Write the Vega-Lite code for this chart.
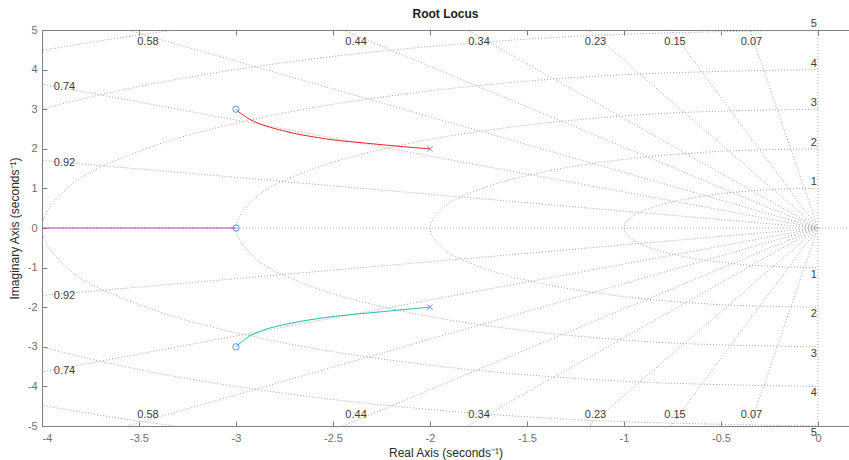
{
  "$schema": "https://vega.github.io/schema/vega-lite/v6.json",
  "width": 807,
  "height": 396,
  "autosize": "none",
  "padding": {"left": 42, "top": 30, "right": 0, "bottom": 34},
  "background": "white",
  "title": {"text": "Root Locus", "font": "Liberation Sans", "fontSize": 12, "fontWeight": "bold", "color": "#1a1a1a", "offset": -3},
  "config": {
    "view": {"stroke": null},
    "axis": {
      "domainColor": "#808080", "tickColor": "#808080", "labelColor": "#6e6e6e",
      "labelFont": "Liberation Sans", "labelFontSize": 11,
      "titleFont": "Liberation Sans", "titleFontSize": 12, "titleFontWeight": "normal", "titleColor": "#2a2a2a",
      "grid": false, "tickSize": -5, "domainWidth": 1, "tickWidth": 1
    }
  },
  "datasets": {
    "zeta": [
      {"x": 0, "y": 0, "x2": -0.7, "y2": 9.976}, {"x": 0, "y": 0, "x2": -0.7, "y2": -9.976},
      {"x": 0, "y": 0, "x2": -1.5, "y2": 9.887}, {"x": 0, "y": 0, "x2": -1.5, "y2": -9.887},
      {"x": 0, "y": 0, "x2": -2.3, "y2": 9.732}, {"x": 0, "y": 0, "x2": -2.3, "y2": -9.732},
      {"x": 0, "y": 0, "x2": -3.4, "y2": 9.404}, {"x": 0, "y": 0, "x2": -3.4, "y2": -9.404},
      {"x": 0, "y": 0, "x2": -4.4, "y2": 8.98}, {"x": 0, "y": 0, "x2": -4.4, "y2": -8.98},
      {"x": 0, "y": 0, "x2": -5.8, "y2": 8.146}, {"x": 0, "y": 0, "x2": -5.8, "y2": -8.146},
      {"x": 0, "y": 0, "x2": -7.4, "y2": 6.726}, {"x": 0, "y": 0, "x2": -7.4, "y2": -6.726},
      {"x": 0, "y": 0, "x2": -9.2, "y2": 3.919}, {"x": 0, "y": 0, "x2": -9.2, "y2": -3.919},
      {"x": 1, "y": 0, "x2": -10, "y2": 0},
      {"x": 0, "y": -10, "x2": 0, "y2": 10}
    ],
    "circles": [
      {"r": 1, "i": 0, "x": 0, "y": 1}, {"r": 1, "i": 1, "x": -0.259, "y": 0.966}, {"r": 1, "i": 2, "x": -0.5, "y": 0.866}, {"r": 1, "i": 3, "x": -0.707, "y": 0.707}, {"r": 1, "i": 4, "x": -0.866, "y": 0.5}, {"r": 1, "i": 5, "x": -0.966, "y": 0.259}, {"r": 1, "i": 6, "x": -1, "y": 0}, {"r": 1, "i": 7, "x": -0.966, "y": -0.259}, {"r": 1, "i": 8, "x": -0.866, "y": -0.5}, {"r": 1, "i": 9, "x": -0.707, "y": -0.707}, {"r": 1, "i": 10, "x": -0.5, "y": -0.866}, {"r": 1, "i": 11, "x": -0.259, "y": -0.966}, {"r": 1, "i": 12, "x": 0, "y": -1},
      {"r": 2, "i": 0, "x": 0, "y": 2}, {"r": 2, "i": 1, "x": -0.518, "y": 1.932}, {"r": 2, "i": 2, "x": -1, "y": 1.732}, {"r": 2, "i": 3, "x": -1.414, "y": 1.414}, {"r": 2, "i": 4, "x": -1.732, "y": 1}, {"r": 2, "i": 5, "x": -1.932, "y": 0.518}, {"r": 2, "i": 6, "x": -2, "y": 0}, {"r": 2, "i": 7, "x": -1.932, "y": -0.518}, {"r": 2, "i": 8, "x": -1.732, "y": -1}, {"r": 2, "i": 9, "x": -1.414, "y": -1.414}, {"r": 2, "i": 10, "x": -1, "y": -1.732}, {"r": 2, "i": 11, "x": -0.518, "y": -1.932}, {"r": 2, "i": 12, "x": 0, "y": -2},
      {"r": 3, "i": 0, "x": 0, "y": 3}, {"r": 3, "i": 1, "x": -0.776, "y": 2.898}, {"r": 3, "i": 2, "x": -1.5, "y": 2.598}, {"r": 3, "i": 3, "x": -2.121, "y": 2.121}, {"r": 3, "i": 4, "x": -2.598, "y": 1.5}, {"r": 3, "i": 5, "x": -2.898, "y": 0.776}, {"r": 3, "i": 6, "x": -3, "y": 0}, {"r": 3, "i": 7, "x": -2.898, "y": -0.776}, {"r": 3, "i": 8, "x": -2.598, "y": -1.5}, {"r": 3, "i": 9, "x": -2.121, "y": -2.121}, {"r": 3, "i": 10, "x": -1.5, "y": -2.598}, {"r": 3, "i": 11, "x": -0.776, "y": -2.898}, {"r": 3, "i": 12, "x": 0, "y": -3},
      {"r": 4, "i": 0, "x": 0, "y": 4}, {"r": 4, "i": 1, "x": -1.035, "y": 3.864}, {"r": 4, "i": 2, "x": -2, "y": 3.464}, {"r": 4, "i": 3, "x": -2.828, "y": 2.828}, {"r": 4, "i": 4, "x": -3.464, "y": 2}, {"r": 4, "i": 5, "x": -3.864, "y": 1.035}, {"r": 4, "i": 6, "x": -4, "y": 0}, {"r": 4, "i": 7, "x": -3.864, "y": -1.035}, {"r": 4, "i": 8, "x": -3.464, "y": -2}, {"r": 4, "i": 9, "x": -2.828, "y": -2.828}, {"r": 4, "i": 10, "x": -2, "y": -3.464}, {"r": 4, "i": 11, "x": -1.035, "y": -3.864}, {"r": 4, "i": 12, "x": 0, "y": -4},
      {"r": 5, "i": 0, "x": 0, "y": 5}, {"r": 5, "i": 1, "x": -1.294, "y": 4.83}, {"r": 5, "i": 2, "x": -2.5, "y": 4.33}, {"r": 5, "i": 3, "x": -3.536, "y": 3.536}, {"r": 5, "i": 4, "x": -4.33, "y": 2.5}, {"r": 5, "i": 5, "x": -4.83, "y": 1.294}, {"r": 5, "i": 6, "x": -5, "y": 0}, {"r": 5, "i": 7, "x": -4.83, "y": -1.294}, {"r": 5, "i": 8, "x": -4.33, "y": -2.5}, {"r": 5, "i": 9, "x": -3.536, "y": -3.536}, {"r": 5, "i": 10, "x": -2.5, "y": -4.33}, {"r": 5, "i": 11, "x": -1.294, "y": -4.83}, {"r": 5, "i": 12, "x": 0, "y": -5},
      {"r": 6, "i": 0, "x": 0, "y": 6}, {"r": 6, "i": 1, "x": -1.553, "y": 5.796}, {"r": 6, "i": 2, "x": -3, "y": 5.196}, {"r": 6, "i": 3, "x": -4.243, "y": 4.243}, {"r": 6, "i": 4, "x": -5.196, "y": 3}, {"r": 6, "i": 5, "x": -5.796, "y": 1.553}, {"r": 6, "i": 6, "x": -6, "y": 0}, {"r": 6, "i": 7, "x": -5.796, "y": -1.553}, {"r": 6, "i": 8, "x": -5.196, "y": -3}, {"r": 6, "i": 9, "x": -4.243, "y": -4.243}, {"r": 6, "i": 10, "x": -3, "y": -5.196}, {"r": 6, "i": 11, "x": -1.553, "y": -5.796}, {"r": 6, "i": 12, "x": 0, "y": -6}
    ],
    "zlabels": [
      {"t": "0.58", "x": -3.454, "y": 4.7}, {"t": "0.44", "x": -2.381, "y": 4.7}, {"t": "0.34", "x": -1.747, "y": 4.7},
      {"t": "0.23", "x": -1.147, "y": 4.7}, {"t": "0.15", "x": -0.737, "y": 4.7}, {"t": "0.07", "x": -0.343, "y": 4.7},
      {"t": "0.58", "x": -3.454, "y": -4.72}, {"t": "0.44", "x": -2.381, "y": -4.72}, {"t": "0.34", "x": -1.747, "y": -4.72},
      {"t": "0.23", "x": -1.147, "y": -4.72}, {"t": "0.15", "x": -0.737, "y": -4.72}, {"t": "0.07", "x": -0.343, "y": -4.72},
      {"t": "0.74", "x": -3.884, "y": 3.55}, {"t": "0.92", "x": -3.884, "y": 1.65},
      {"t": "0.92", "x": -3.884, "y": -1.71}, {"t": "0.74", "x": -3.884, "y": -3.62}
    ],
    "wtop": [
      {"t": "1", "x": 0, "y": 1}, {"t": "2", "x": 0, "y": 2}, {"t": "3", "x": 0, "y": 3}, {"t": "4", "x": 0, "y": 4}, {"t": "5", "x": 0, "y": 5}
    ],
    "wbot": [
      {"t": "1", "x": 0, "y": -1}, {"t": "2", "x": 0, "y": -2}, {"t": "3", "x": 0, "y": -3}, {"t": "4", "x": 0, "y": -4}, {"t": "5", "x": 0, "y": -5}
    ],
    "branches": [
      {"b": "m", "i": 0, "x": -4, "y": 0}, {"b": "m", "i": 1, "x": -3, "y": 0},
      {"b": "r", "i": 0, "x": -3.0, "y": 3.0}, {"b": "r", "i": 1, "x": -2.985, "y": 2.93}, {"b": "r", "i": 2, "x": -2.96, "y": 2.84}, {"b": "r", "i": 3, "x": -2.928, "y": 2.74}, {"b": "r", "i": 4, "x": -2.885, "y": 2.645}, {"b": "r", "i": 5, "x": -2.842, "y": 2.57}, {"b": "r", "i": 6, "x": -2.76, "y": 2.46}, {"b": "r", "i": 7, "x": -2.67, "y": 2.36}, {"b": "r", "i": 8, "x": -2.58, "y": 2.285}, {"b": "r", "i": 9, "x": -2.5, "y": 2.225}, {"b": "r", "i": 10, "x": -2.41, "y": 2.18}, {"b": "r", "i": 11, "x": -2.326, "y": 2.14}, {"b": "r", "i": 12, "x": -2.24, "y": 2.1}, {"b": "r", "i": 13, "x": -2.155, "y": 2.06}, {"b": "r", "i": 14, "x": -2.08, "y": 2.03}, {"b": "r", "i": 15, "x": -2.0, "y": 2.0},
      {"b": "c", "i": 0, "x": -3.0, "y": -3.0}, {"b": "c", "i": 1, "x": -2.985, "y": -2.93}, {"b": "c", "i": 2, "x": -2.96, "y": -2.84}, {"b": "c", "i": 3, "x": -2.928, "y": -2.72}, {"b": "c", "i": 4, "x": -2.885, "y": -2.63}, {"b": "c", "i": 5, "x": -2.842, "y": -2.55}, {"b": "c", "i": 6, "x": -2.76, "y": -2.45}, {"b": "c", "i": 7, "x": -2.67, "y": -2.36}, {"b": "c", "i": 8, "x": -2.58, "y": -2.29}, {"b": "c", "i": 9, "x": -2.5, "y": -2.235}, {"b": "c", "i": 10, "x": -2.41, "y": -2.19}, {"b": "c", "i": 11, "x": -2.326, "y": -2.15}, {"b": "c", "i": 12, "x": -2.24, "y": -2.11}, {"b": "c", "i": 13, "x": -2.155, "y": -2.07}, {"b": "c", "i": 14, "x": -2.08, "y": -2.035}, {"b": "c", "i": 15, "x": -2.0, "y": -2.0}
    ],
    "zeros": [{"x": -3, "y": 3}, {"x": -3, "y": 0}, {"x": -3, "y": -3}],
    "poles": [{"x": -2, "y": 2}, {"x": -2, "y": -2}]
  },
  "layer": [
    {
      "data": {"name": "zeta"},
      "mark": {"type": "rule", "clip": true, "color": "#a3a3a3", "strokeWidth": 1, "strokeDash": [1, 2]},
      "encoding": {
        "x": {"field": "x", "type": "quantitative", "scale": {"domain": [-4, 0.16], "nice": false, "zero": false},
              "axis": {"orient": "top", "values": [-4, -3.5, -3, -2.5, -2, -1.5, -1, -0.5, 0], "labels": false, "title": null, "minExtent": 0, "maxExtent": 0}},
        "x2": {"field": "x2"},
        "y": {"field": "y", "type": "quantitative", "scale": {"domain": [-5, 5], "nice": false, "zero": false}, "axis": null},
        "y2": {"field": "y2"}
      }
    },
    {
      "data": {"name": "circles"},
      "mark": {"type": "line", "clip": true, "interpolate": "catmull-rom", "color": "#a3a3a3", "strokeWidth": 1, "strokeDash": [1, 2]},
      "encoding": {
        "x": {"field": "x", "type": "quantitative", "scale": {"domain": [-4, 0.16], "nice": false, "zero": false}, "axis": null},
        "y": {"field": "y", "type": "quantitative", "scale": {"domain": [-5, 5], "nice": false, "zero": false}, "axis": null},
        "detail": {"field": "r", "type": "nominal"},
        "order": {"field": "i", "type": "quantitative"}
      }
    },
    {
      "data": {"name": "zlabels"},
      "mark": {"type": "text", "font": "Liberation Sans", "fontSize": 11, "color": "#3c3c3c", "align": "center", "baseline": "middle"},
      "encoding": {
        "x": {"field": "x", "type": "quantitative", "axis": null},
        "y": {"field": "y", "type": "quantitative", "axis": null},
        "text": {"field": "t"}
      }
    },
    {
      "data": {"name": "wtop"},
      "mark": {"type": "text", "font": "Liberation Sans", "fontSize": 11, "color": "#3c3c3c", "align": "right", "baseline": "bottom", "dx": -1, "dy": -1},
      "encoding": {
        "x": {"field": "x", "type": "quantitative", "axis": null},
        "y": {"field": "y", "type": "quantitative", "axis": null},
        "text": {"field": "t"}
      }
    },
    {
      "data": {"name": "wbot"},
      "mark": {"type": "text", "font": "Liberation Sans", "fontSize": 11, "color": "#3c3c3c", "align": "right", "baseline": "top", "dx": -1, "dy": 1},
      "encoding": {
        "x": {"field": "x", "type": "quantitative", "axis": null},
        "y": {"field": "y", "type": "quantitative", "axis": null},
        "text": {"field": "t"}
      }
    },
    {
      "data": {"name": "branches"},
      "mark": {"type": "line", "interpolate": "catmull-rom", "strokeWidth": 1, "clip": true},
      "encoding": {
        "x": {"field": "x", "type": "quantitative",
              "axis": {"orient": "bottom", "values": [-4, -3.5, -3, -2.5, -2, -1.5, -1, -0.5, 0], "labelExpr": "'' + datum.value", "labelPadding": 11, "title": "Real Axis (seconds⁻¹)", "titlePadding": 4}},
        "y": {"field": "y", "type": "quantitative",
              "axis": {"orient": "left", "values": [-5, -4, -3, -2, -1, 0, 1, 2, 3, 4, 5], "labelExpr": "'' + datum.value", "labelPadding": 10, "title": "Imaginary Axis (seconds⁻¹)", "titlePadding": 6}},
        "color": {"field": "b", "type": "nominal", "scale": {"domain": ["r", "c", "m"], "range": ["#ee2024", "#1fbcbc", "#cc3acc"]}, "legend": null},
        "detail": {"field": "b"},
        "order": {"field": "i", "type": "quantitative"}
      }
    },
    {
      "data": {"name": "zeros"},
      "mark": {"type": "point", "shape": "circle", "filled": false, "size": 40, "color": "#2a64d0", "strokeWidth": 1},
      "encoding": {
        "x": {"field": "x", "type": "quantitative", "axis": null},
        "y": {"field": "y", "type": "quantitative", "axis": null}
      }
    },
    {
      "data": {"name": "poles"},
      "mark": {"type": "point", "shape": "M -1 -1 L 1 1 M -1 1 L 1 -1", "filled": false, "size": 30, "color": "#2a64d0", "strokeWidth": 1},
      "encoding": {
        "x": {"field": "x", "type": "quantitative", "axis": null},
        "y": {"field": "y", "type": "quantitative", "axis": null}
      }
    }
  ],
  "resolve": {"axis": {"x": "independent", "y": "independent"}}
}
